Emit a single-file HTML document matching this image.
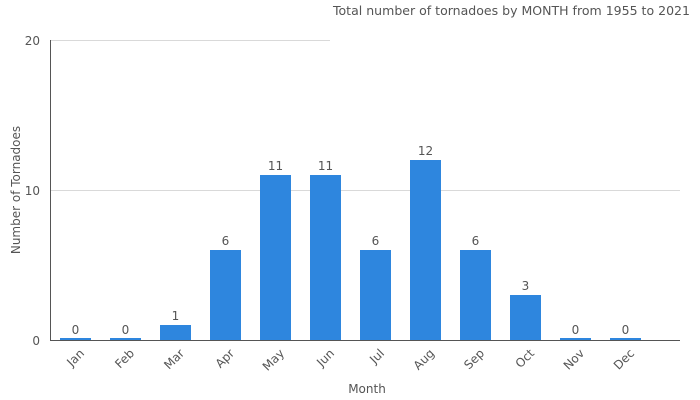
<!DOCTYPE html>
<html><head><style>body{margin:0;background:#fff}svg{display:block;font-family:"DejaVu Sans","Liberation Sans",sans-serif}</style></head><body>
<svg width="700" height="400" xmlns="http://www.w3.org/2000/svg">
<line x1="50" y1="40.5" x2="330" y2="40.5" stroke="#d9d9d9"/>
<line x1="50" y1="190.5" x2="680" y2="190.5" stroke="#d9d9d9"/>
<line x1="50.5" y1="40" x2="50.5" y2="340" stroke="#555"/>
<g font-size="12" fill="#555" text-anchor="end">
<text x="40" y="45">20</text><text x="40" y="195">10</text><text x="40" y="345">0</text></g>
<text x="333" y="15" font-size="12.5" fill="#555" textLength="357" lengthAdjust="spacingAndGlyphs">Total number of tornadoes by MONTH from 1955 to 2021</text>
<text transform="translate(20,190) rotate(-90)" font-size="12" fill="#555" text-anchor="middle">Number of Tornadoes</text>
<text x="367" y="393" font-size="12" fill="#555" text-anchor="middle">Month</text>
<g fill="#2e86de">
<rect x="60" y="338" width="31" height="2"/><rect x="110" y="338" width="31" height="2"/>
<rect x="160" y="325" width="31" height="15"/><rect x="210" y="250" width="31" height="90"/>
<rect x="260" y="175" width="31" height="165"/><rect x="310" y="175" width="31" height="165"/>
<rect x="360" y="250" width="31" height="90"/><rect x="410" y="160" width="31" height="180"/>
<rect x="460" y="250" width="31" height="90"/><rect x="510" y="295" width="31" height="45"/>
<rect x="560" y="338" width="31" height="2"/><rect x="610" y="338" width="31" height="2"/>
</g>
<line x1="50" y1="340.5" x2="680" y2="340.5" stroke="#555"/>
<g font-size="12" fill="#555" text-anchor="middle">
<text x="75.5" y="334">0</text><text x="125.5" y="334">0</text><text x="175.5" y="320">1</text>
<text x="225.5" y="245">6</text><text x="275.5" y="170">11</text><text x="325.5" y="170">11</text>
<text x="375.5" y="245">6</text><text x="425.5" y="155">12</text><text x="475.5" y="245">6</text>
<text x="525.5" y="290">3</text><text x="575.5" y="334">0</text><text x="625.5" y="334">0</text>
</g>
<g font-size="12" fill="#555" text-anchor="end">
<text transform="translate(85,354) rotate(-45)">Jan</text>
<text transform="translate(135,354) rotate(-45)">Feb</text>
<text transform="translate(185,354) rotate(-45)">Mar</text>
<text transform="translate(235,354) rotate(-45)">Apr</text>
<text transform="translate(285,354) rotate(-45)">May</text>
<text transform="translate(335,354) rotate(-45)">Jun</text>
<text transform="translate(385,354) rotate(-45)">Jul</text>
<text transform="translate(435,354) rotate(-45)">Aug</text>
<text transform="translate(485,354) rotate(-45)">Sep</text>
<text transform="translate(535,354) rotate(-45)">Oct</text>
<text transform="translate(585,354) rotate(-45)">Nov</text>
<text transform="translate(635,354) rotate(-45)">Dec</text>
</g>
</svg>
</body></html>
